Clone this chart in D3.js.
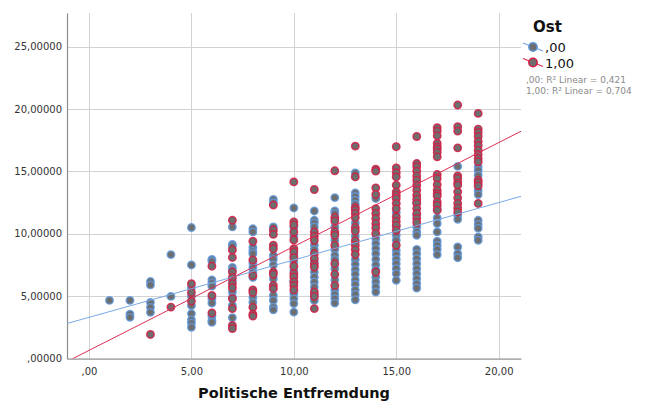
<!DOCTYPE html>
<html><head><meta charset="utf-8">
<script src="https://cdn.jsdelivr.net/npm/d3@7"></script>
<style>
body{margin:0;background:#fff;}
svg{display:block;font-family:"DejaVu Sans",sans-serif;}
</style></head>
<body><svg id="chart" width="649" height="404"></svg>
<script>
// ---- data ----
const xCats = [1,2,3,4,5,6,7,8,9,10,11,12,13,14,15,16,17,18,19];
const groupLabels = [",00", "1,00"];
const blueY = [
  [4.66],
  [4.66,3.55,3.3],
  [6.17,5.9,4.5,4.1,3.7],
  [8.33,4.98],
  [10.5,7.5,5.7,5.0,4.25,3.6,3.1,2.85,2.5],
  [7.95,7.8,6.3,6.05,5.8,4.8,4.45,3.4,3.05,2.9],
  [10.55,9.15,9.0,7.3,7.1,6.27,5.33,4.9,4.25,3.27],
  [10.4,10.15,8.9,8.6,8.4,7.65,7.3,6.9,6.5,4.9,4.5],
  [12.75,12.5,10.55,8.27,7.95,7.5,6.4,5.06,4.66,4.12,3.9],
  [12.07,10.5,9.8,8.27,7.74,7.07,6.2,5.2,4.8,4.4,3.72],
  [11.83,11.08,10.87,10.55,9.08,8.73,7.74,6.93,6.53,6.13,5.73,5.1,4.66],
  [12.9,11.83,11.62,10.55,9.48,8.73,8.27,7.93,7.2,6.3,5.5,5.14,4.8,4.44],
  [14.88,13.28,13.0,12.7,12.37,10.87,9.8,7.93,7.55,7.12,6.75,6.3,5.94,5.5,5.14,4.71],
  [12.83,9.61,9.21,8.81,8.4,7.95,7.5,7.1,6.53,6.13,5.73,5.33],
  [11.7,10.6,9.88,9.48,8.67,8.33,7.95,7.6,7.2,6.8,6.27],
  [12.5,11.5,10.55,10.15,9.88,8.75,8.4,8.0,7.6,7.2,6.8,6.4,6.0,5.65],
  [12.0,11.27,10.82,10.15,9.4,9.08,8.75,8.33],
  [15.4,11.5,11.16,8.94,8.4,8.08],
  [15.37,15.1,14.7,13.49,13.15,11.08,10.74,10.45,9.74,9.48]
];
const redY = [
  [],
  [],
  [1.93],
  [4.12],
  [6.0,5.3,4.6],
  [7.4,5.05,3.65],
  [11.08,8.7,8.1,6.93,6.5,6.0,5.68,4.8,4.0,2.65,2.4],
  [9.4,7.9,6.65,5.5,5.3,4.1,3.55,3.4],
  [12.3,10.3,9.95,9.08,8.8,6.93,6.75,5.86,5.6],
  [14.16,10.95,10.7,10.15,9.5,8.8,8.54,8.08,7.4,6.8,6.53,6.13,5.86,5.5],
  [13.55,10.15,9.8,9.48,8.4,8.0,7.55,7.33,5.33,4.98,4.0],
  [15.05,11.3,11.03,10.15,9.88,9.08,7.6,6.75,5.86],
  [17.03,14.56,12.1,11.9,11.62,11.3,10.5,10.22,9.42,9.08,8.73,8.35],
  [15.18,15.02,13.68,13.15,12.02,11.62,11.22,10.82,10.47,10.02,6.93],
  [16.98,15.28,14.9,14.56,13.9,13.36,13.09,12.83,12.43,12.02,11.35,11.0,10.68,10.28,9.08],
  [17.8,15.63,15.37,15.02,14.64,14.3,13.9,13.5,13.09,12.77,12.43,12.02,11.62,11.22,10.9],
  [18.5,18.23,17.85,17.24,16.97,16.79,16.52,16.17,14.75,14.43,13.94,13.49,13.22,13.03,12.55,12.29,11.89],
  [20.32,18.58,18.23,16.89,14.64,14.43,14.1,13.9,13.36,12.88,12.43,12.07,11.75],
  [19.65,18.39,18.12,17.8,17.4,17.08,16.7,16.35,16.03,15.77,14.3,14.1,13.84,12.43]
];
const fitIntercept = [3.30, 0.65];
const fitSlope = [0.46, 0.833];
const r2Labels = [",00: R\u00B2 Linear = 0,421", "1,00: R\u00B2 Linear = 0,704"];
const yTicks = [0,5,10,15,20,25];
const xTicks = [0,5,10,15,20];
const legendTitle = "Ost";
const xTitle = "Politische Entfremdung";

// ---- drawing ----
const colors = ["#6098da", "#d31d45"];
const lineColors = ["#78a9e4", "#dc2f55"];
const svg = d3.select("#chart");
const L = 67, R = 521, T = 13, B = 358.5;
const x = d3.scaleLinear().domain([-1.074, 21.09]).range([L, R]);
const y = d3.scaleLinear().domain([0, 27.7]).range([B, T]);

const loc = d3.formatLocale({decimal:",", thousands:".", grouping:[3], currency:["","€"]});
const fy = v => loc.format(".5f")(v).replace(/^0,/, ",");
const fx = v => loc.format(".2f")(v).replace(/^0,/, ",");

// gridlines
svg.append("g").selectAll("line.gy").data(yTicks).join("line")
  .attr("x1", L).attr("x2", R).attr("y1", d => Math.round(y(d))+0.5).attr("y2", d => Math.round(y(d))+0.5)
  .attr("stroke", "#d2d2d2").attr("stroke-width", 1);
svg.append("g").selectAll("line.gx").data(xTicks).join("line")
  .attr("y1", T).attr("y2", B).attr("x1", d => Math.round(x(d))+0.5).attr("x2", d => Math.round(x(d))+0.5)
  .attr("stroke", "#d2d2d2").attr("stroke-width", 1);

// axes
const ax = svg.append("g").attr("transform", `translate(0,${B})`)
  .call(d3.axisBottom(x).tickValues(xTicks).tickFormat(fx).tickSize(0).tickPadding(9));
const ay = svg.append("g").attr("transform", `translate(${L},0)`)
  .call(d3.axisLeft(y).tickValues(yTicks).tickFormat(fy).tickSize(0).tickPadding(5));
[ax, ay].forEach(g => {
  g.select(".domain").attr("stroke", "#8c8c8c").attr("stroke-width", 1.2);
  g.selectAll("text").attr("font-size", 10).attr("fill", "#333").attr("font-family", "DejaVu Sans, sans-serif");
});

// clip
svg.append("clipPath").attr("id", "clip").append("rect")
  .attr("x", L).attr("y", T).attr("width", R - L).attr("height", B - T);

// points
const groups = [blueY, redY];
const pg = svg.append("g");
groups.forEach((cols, gi) => {
  const pts = [];
  cols.forEach((vals, ci) => vals.forEach(v => pts.push([xCats[ci], v])));
  pg.append("g").selectAll("circle").data(pts).join("circle")
    .attr("cx", d => x(d[0])).attr("cy", d => y(d[1])).attr("r", 3.7)
    .attr("fill", "#6e6e6e").attr("stroke", colors[gi]).attr("stroke-width", 1.5)
    .attr("stroke-opacity", 0.85);
});

// fit lines
const lg = svg.append("g").attr("clip-path", "url(#clip)");
fitIntercept.forEach((a, gi) => {
  const xs = x.domain();
  lg.append("line")
    .attr("x1", x(xs[0])).attr("y1", y(a + fitSlope[gi] * xs[0]))
    .attr("x2", x(xs[1])).attr("y2", y(a + fitSlope[gi] * xs[1]))
    .attr("stroke", lineColors[gi]).attr("stroke-width", 1);
});

// x title
svg.append("text").attr("x", 294).attr("y", 398).attr("text-anchor", "middle")
  .attr("font-size", 14.5).attr("font-weight", "bold").attr("fill", "#111").text(xTitle);

// legend
const leg = svg.append("g");
leg.append("text").attr("x", 533).attr("y", 32).attr("font-size", 15).attr("font-weight", "bold").attr("fill", "#111").text(legendTitle);
groupLabels.forEach((lab, i) => {
  const cy = 47 + i * 15.5;
  leg.append("line").attr("x1", 523).attr("y1", cy - 4).attr("x2", 543).attr("y2", cy + 4)
    .attr("stroke", lineColors[i]).attr("stroke-width", 1.2);
  leg.append("circle").attr("cx", 533).attr("cy", cy).attr("r", 4.2)
    .attr("fill", "#6e6e6e").attr("stroke", colors[i]).attr("stroke-width", 1.5);
  leg.append("text").attr("x", 545).attr("y", cy + 5).attr("font-size", 13).attr("fill", "#111").text(lab);
});
r2Labels.forEach((t, i) => {
  leg.append("text").attr("x", 526).attr("y", 83 + i * 11).attr("font-size", 9).attr("fill", "#8a8a8a").text(t);
});
</script></body></html>
